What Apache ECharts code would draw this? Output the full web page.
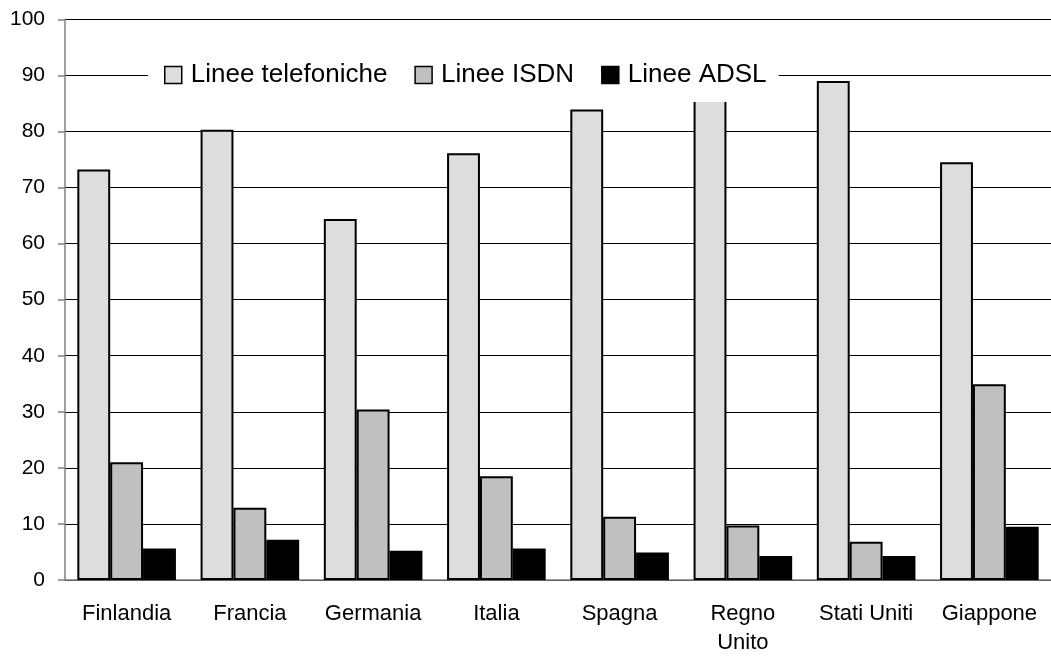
<!DOCTYPE html>
<html>
<head>
<meta charset="utf-8">
<script src="https://cdn.jsdelivr.net/npm/echarts@6/dist/echarts.min.js"></script>
<style>
  html, body { margin: 0; padding: 0; background: #fff; }
  #chart { width: 1051px; height: 657px; }
</style>
</head>
<body>
<div id="chart"></div>
<script>
// categorie e valori
const paesi = ['Finlandia', 'Francia', 'Germania', 'Italia', 'Spagna', 'Regno\nUnito', 'Stati Uniti', 'Giappone'];
const lineeTelefoniche = [73.2, 80.3, 64.4, 76.1, 83.9, 88.0, 89.0, 74.5];
const lineeISDN = [21.0, 12.9, 30.4, 18.5, 11.3, 9.7, 6.8, 34.9];
const lineeADSL = [5.6, 7.2, 5.2, 5.6, 4.9, 4.3, 4.3, 9.5];

const font = 'Arial, "Liberation Sans", sans-serif';

function barSeries(name, data, color) {
    return {
        name: name,
        type: 'bar',
        data: data,
        barGap: '0%',
        barCategoryGap: '20%',
        itemStyle: {
            color: color,
            borderColor: '#000',
            borderWidth: 2
        }
    };
}

let myChart = echarts.init(document.getElementById('chart'));
myChart.setOption({
    animation: false,
    backgroundColor: '#fff',
    textStyle: { fontFamily: font },
    grid: {
        left: 65,
        right: 0,
        top: 19.3,
        bottom: 76
    },
    legend: {
        left: 148,
        top: 46,
        padding: [16, 12, 14, 16],
        backgroundColor: '#fff',
        itemWidth: 17,
        itemHeight: 17,
        itemGap: 27,
        icon: 'rect',
        itemStyle: { borderColor: '#000', borderWidth: 1.5 },
        textStyle: {
            fontFamily: font,
            fontSize: 26,
            color: '#000',
            padding: [0, 0, 0, 4]
        },
        data: ['Linee telefoniche', 'Linee ISDN', 'Linee ADSL']
    },
    xAxis: {
        type: 'category',
        data: paesi,
        axisLine: { lineStyle: { color: '#808080', width: 1.5 } },
        axisTick: { length: 7, lineStyle: { color: '#808080', width: 1.5 } },
        axisLabel: {
            fontFamily: font,
            fontSize: 22,
            color: '#000',
            margin: 19,
            lineHeight: 29,
            interval: 0
        }
    },
    yAxis: {
        type: 'value',
        min: 0,
        max: 100,
        interval: 10,
        axisLine: { show: true, lineStyle: { color: '#808080', width: 1.5 } },
        axisTick: { show: true, length: 7, lineStyle: { color: '#808080', width: 1.5 } },
        axisLabel: {
            fontFamily: font,
            fontSize: 21,
            color: '#000',
            margin: 20
        },
        splitLine: { lineStyle: { color: '#000', width: 1.2 } }
    },
    series: [
        barSeries('Linee telefoniche', lineeTelefoniche, '#dddddd'),
        barSeries('Linee ISDN', lineeISDN, '#c0c0c0'),
        barSeries('Linee ADSL', lineeADSL, '#000000')
    ]
});
</script>
</body>
</html>
